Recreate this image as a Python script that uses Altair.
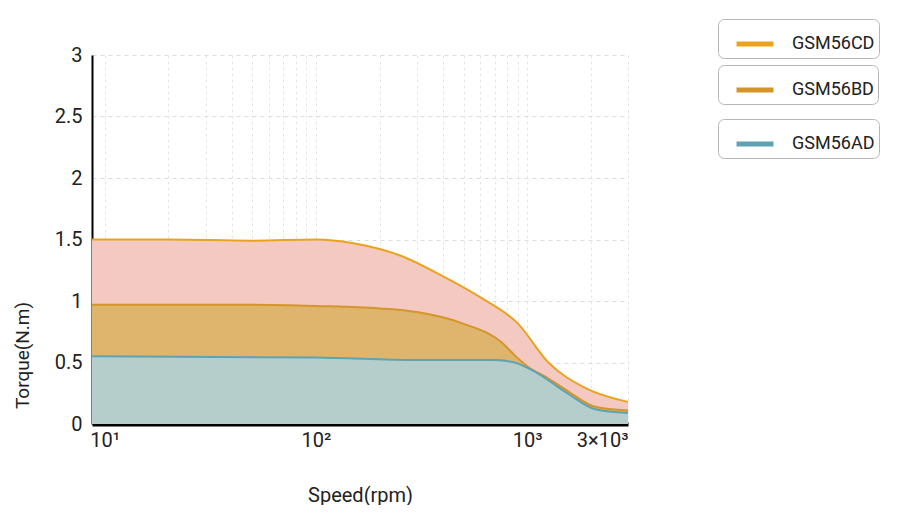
import altair as alt
import pandas as pd

# ---- data ----
series_names = ["GSM56CD", "GSM56BD", "GSM56AD"]

speed_cd = [8.7, 20, 50, 100, 150, 250, 400, 600, 900, 1260, 1900, 3000]
torque_cd = [1.50, 1.50, 1.49, 1.50, 1.47, 1.37, 1.20, 1.03, 0.82, 0.50, 0.29, 0.18]

speed_bd = [8.7, 50, 100, 200, 300, 490, 760, 870, 1000, 1260, 1580, 2100, 3000]
torque_bd = [0.97, 0.97, 0.96, 0.94, 0.91, 0.82, 0.66, 0.56, 0.47, 0.37, 0.26, 0.14, 0.11]

speed_ad = [8.7, 100, 300, 700, 870, 1100, 1580, 2100, 3000]
torque_ad = [0.55, 0.54, 0.52, 0.52, 0.50, 0.42, 0.24, 0.12, 0.09]

line_colors = ["#EBA21E", "#D4952A", "#5FA3B3"]
fill_colors = ["#F4C9C2", "#DFB46C", "#B5CECC"]

x_grid_values = [10, 20, 30, 40, 50, 60, 70, 80, 90,
                 100, 200, 300, 400, 500, 600, 700, 800, 900,
                 1000, 2000, 3000]
y_ticks = [0, 0.5, 1, 1.5, 2, 2.5, 3]

FONT = "Roboto, Lato, sans-serif"

label_expr = ("datum.value == 10 ? '10¹' : datum.value == 100 ? '10²' : "
              "datum.value == 1000 ? '10³' : datum.value == 3000 ? '3×10³' : ''")

x_enc = alt.X(
    "speed:Q",
    scale=alt.Scale(type="log", domain=[8.7, 3000], nice=False),
    axis=alt.Axis(
        title="Speed(rpm)", values=x_grid_values, labelExpr=label_expr,
        labelOverlap=False, ticks=False, domainColor="#000", domainWidth=4,
        grid=True, gridDash=[3, 3], gridColor="#e6e6e6",
        labelFontSize=20, labelColor="#222", labelPadding=6, labelFont=FONT,
        titleFontSize=20, titleFontWeight="normal", titleColor="#222", titleFont=FONT,
        titleY=71, titleBaseline="middle",
    ),
)
y_enc = alt.Y(
    "torque:Q",
    scale=alt.Scale(domain=[0, 3], nice=False),
    axis=alt.Axis(
        title="Torque(N.m)", values=y_ticks, format="~g", ticks=False,
        domainColor="#000", domainWidth=2,
        grid=True, gridDash=[4, 4], gridColor="#dcdcdc",
        labelFontSize=20, labelColor="#222", labelPadding=10, labelFont=FONT,
        titleFontSize=19, titleFontWeight="normal", titleColor="#222", titleFont=FONT,
        titleX=-70, titleY=300, titleAngle=270, titleBaseline="middle",
    ),
)

speeds = [speed_cd, speed_bd, speed_ad]
torques = [torque_cd, torque_bd, torque_ad]
legend_y = [-36, 10, 64]

layers = []
for i, name in enumerate(series_names):
    df = pd.DataFrame({"speed": speeds[i], "torque": torques[i], "series": name})
    area = alt.Chart(df).mark_area(
        color=fill_colors[i], opacity=1, interpolate="monotone"
    ).encode(x=x_enc, y=y_enc)
    line = alt.Chart(df).mark_line(
        strokeWidth=2, interpolate="monotone"
    ).encode(
        x=x_enc, y=y_enc,
        color=alt.Color(
            "series:N",
            scale=alt.Scale(domain=[name], range=[line_colors[i]]),
            legend=alt.Legend(
                title=None, orient="none", legendX=626, legendY=legend_y[i],
                symbolType="stroke", symbolStrokeWidth=5, symbolSize=1369,
                symbolOffset=12,
                labelFontSize=18, labelColor="#222", labelFont=FONT, labelOffset=16,
                strokeColor="#b5b5b5", cornerRadius=6, padding=4, fillColor="white",
            ),
        ),
    )
    layers += [area, line]

chart = alt.layer(*layers).resolve_scale(color="independent").properties(
    width=536, height=369,
    autosize=alt.AutoSizeParams(type="none"),
    padding={"left": 84, "top": 47, "right": 279, "bottom": 81},
).configure_view(stroke=None)

chart.save("out.html", embed_options={"renderer": "svg", "actions": False})
